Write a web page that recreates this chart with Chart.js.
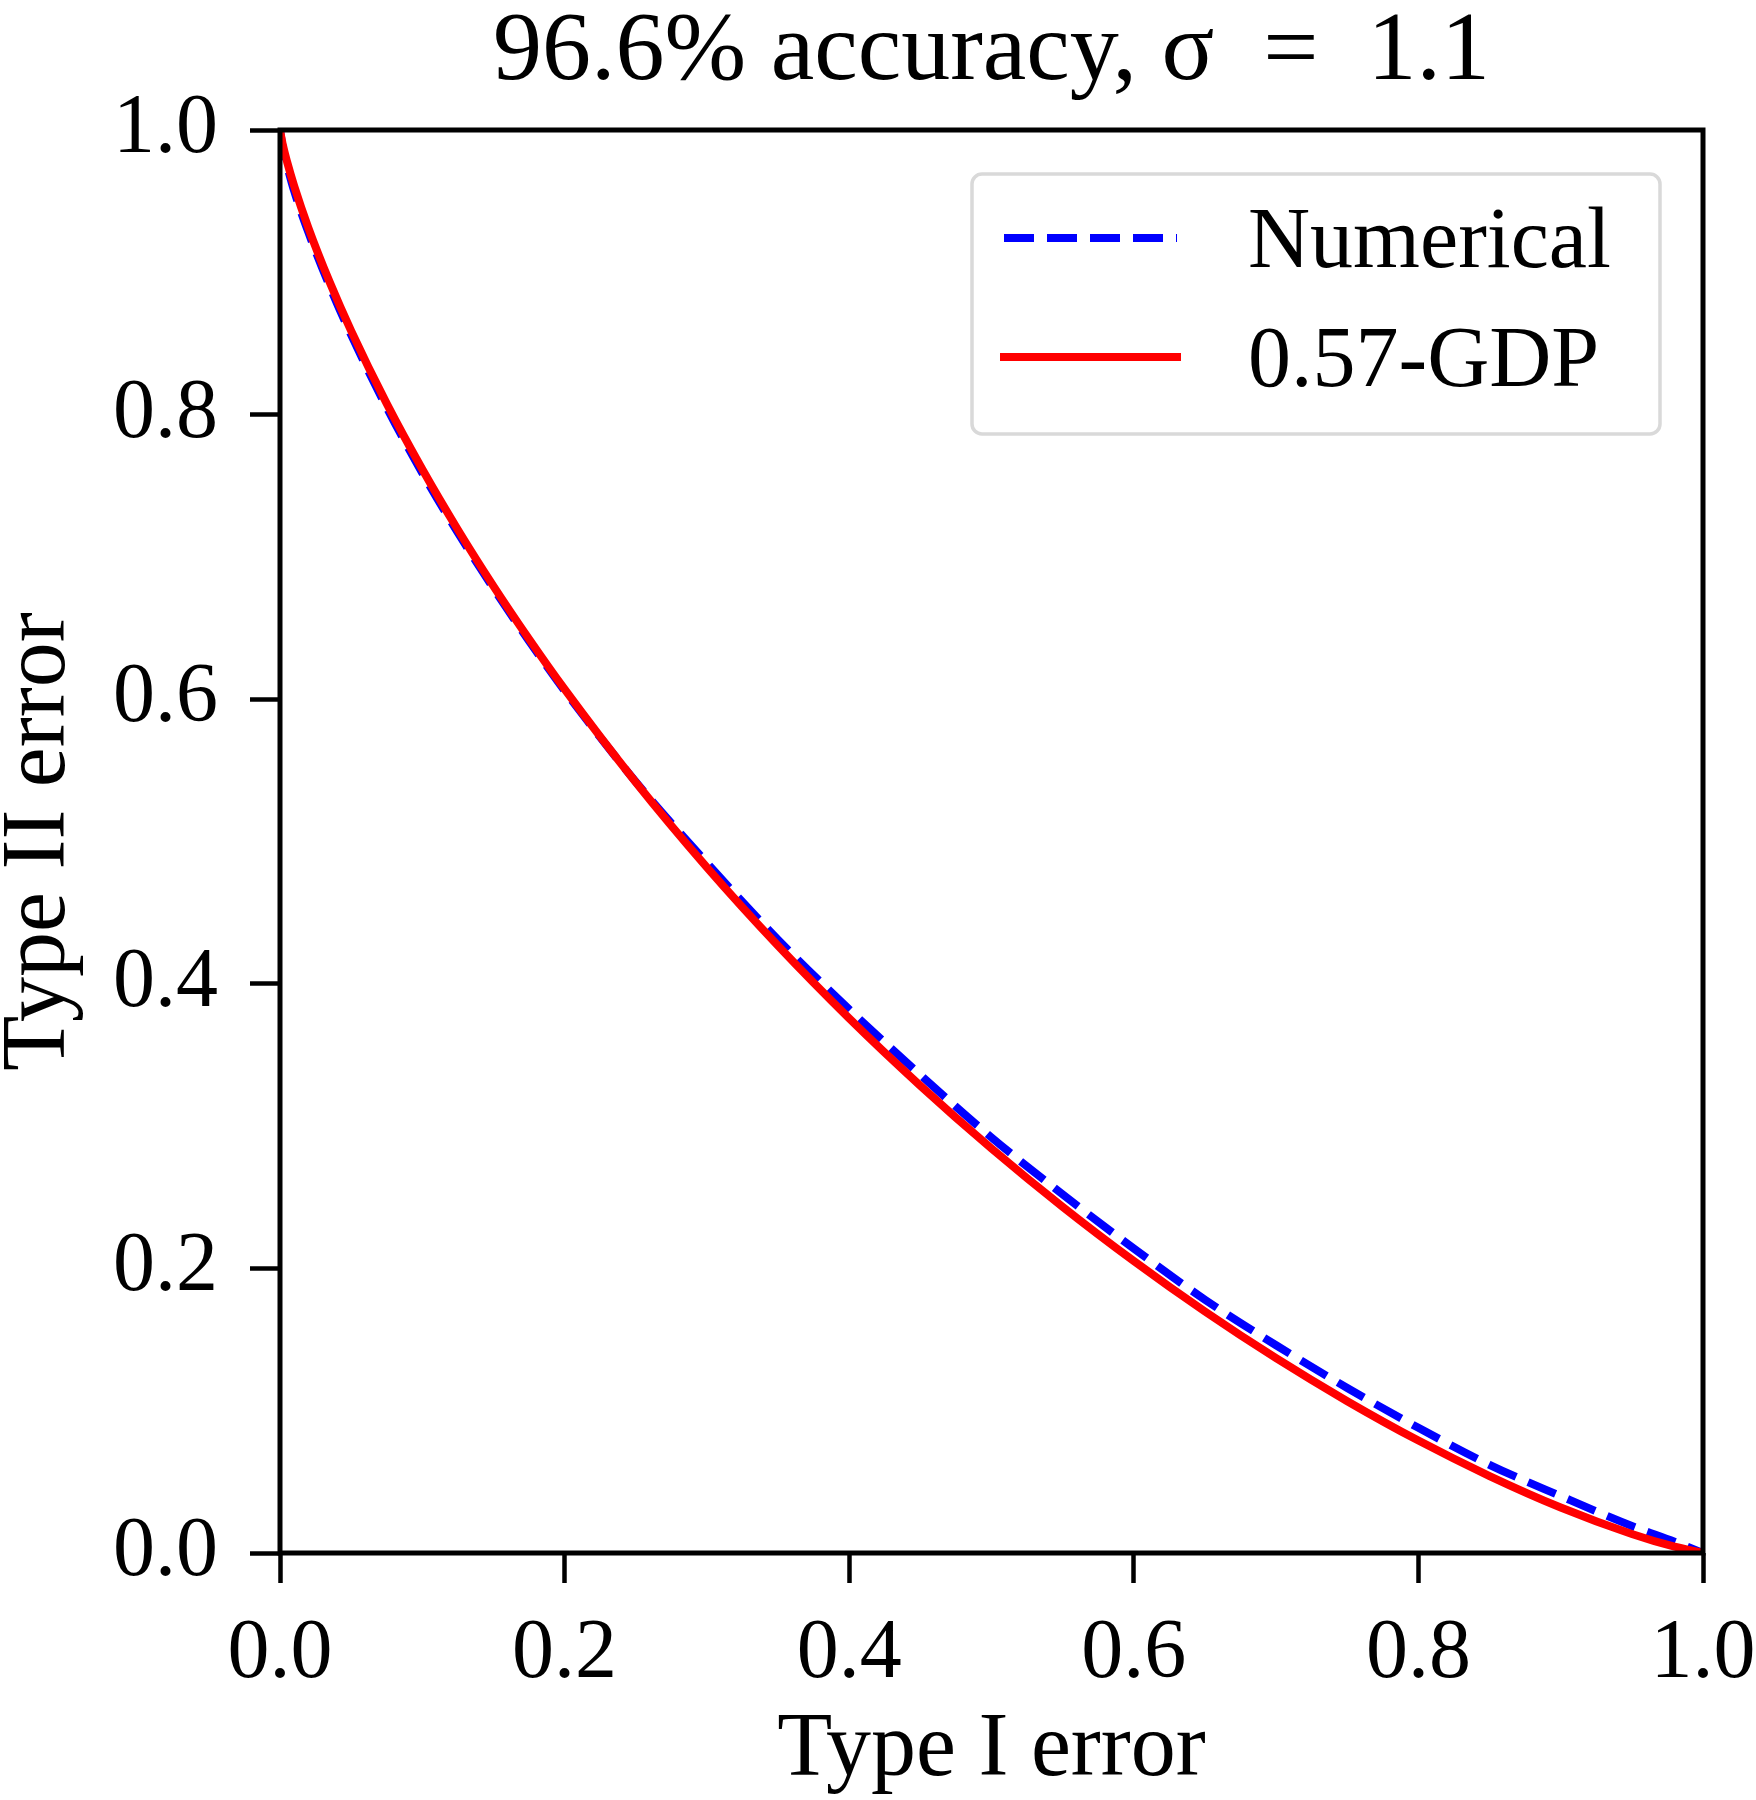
<!DOCTYPE html>
<html>
<head>
<meta charset="utf-8">
<script src="https://cdn.jsdelivr.net/npm/chart.js@4.4.0/dist/chart.umd.min.js"></script>
<style>
html,body{margin:0;padding:0;background:#fff;}
canvas{display:block;}
</style>
</head>
<body>
<canvas id="tradeoff" width="1756" height="1800"></canvas>
<script>
// type I error (x) and type II error (y)
const typeIErr = [0, 0.002, 0.005, 0.01, 0.02, 0.035, 0.05, 0.075, 0.1, 0.125, 0.15, 0.175, 0.2, 0.25, 0.3, 0.35, 0.4, 0.45, 0.5, 0.55, 0.6, 0.65, 0.7, 0.75, 0.8, 0.85, 0.9, 0.95, 0.98, 1.0];
const numerical = [1.0, 0.987, 0.975, 0.957, 0.928, 0.890, 0.856, 0.805, 0.759, 0.717, 0.678, 0.641, 0.606, 0.542, 0.485, 0.431, 0.382, 0.336, 0.292, 0.252, 0.214, 0.178, 0.146, 0.116, 0.088, 0.062, 0.040, 0.019, 0.008, 0];
const gdp = [1.0, 0.9895, 0.9776, 0.9605, 0.9311, 0.8929, 0.8588, 0.8077, 0.7616, 0.7191, 0.6795, 0.6423, 0.6070, 0.5416, 0.4818, 0.4267, 0.3757, 0.3284, 0.2843, 0.2433, 0.2052, 0.1697, 0.1369, 0.1067, 0.0790, 0.0541, 0.0320, 0.0134, 0.0044, 0];

const tickValues = [0, 0.2, 0.4, 0.6, 0.8, 1.0];
const tickLabels = ['0.0', '0.2', '0.4', '0.6', '0.8', '1.0'];

const seriesNames = ['Numerical', '0.57-GDP'];
const titleText = '96.6% accuracy, σ\u2002=\u20021.1';
const xTitle = 'Type I error';
const yTitle = 'Type II error';

const FONT = "'Liberation Serif', 'Times New Roman', serif";
const toPts = ys => ys.map((y, i) => ({ x: typeIErr[i], y }));

// frame on all four sides + matplotlib-like legend box
const frameLegend = {
  id: 'frameLegend',
  afterDatasetsDraw(chart){
    const { ctx, chartArea: a } = chart;
    ctx.save();
    ctx.strokeStyle = '#000';
    ctx.lineWidth = 5;
    ctx.strokeRect(a.left, a.top, a.right - a.left, a.bottom - a.top);
    ctx.restore();
  },
  afterDraw(chart){
    const { ctx, chartArea: a } = chart;
    const bx = a.right - 731, by = a.top + 44, bw = 688, bh = 260;
    ctx.save();
    ctx.beginPath();
    ctx.roundRect(bx, by, bw, bh, 10);
    ctx.fillStyle = 'rgba(255,255,255,0.8)';
    ctx.fill();
    ctx.lineWidth = 3.5;
    ctx.strokeStyle = '#d9d9d9';
    ctx.stroke();

    const rows = [by + 64, by + 183];
    chart.data.datasets.forEach((ds, i) => {
      const y = rows[i];
      ctx.beginPath();
      ctx.setLineDash(ds.borderDash || []);
      ctx.lineCap = ds.borderDash ? 'butt' : 'square';
      ctx.lineWidth = ds.borderWidth;
      ctx.strokeStyle = ds.borderColor;
      ctx.moveTo(bx + 32, y);
      ctx.lineTo(bx + 205, y);
      ctx.stroke();
      ctx.setLineDash([]);
      ctx.fillStyle = '#000';
      ctx.font = `86px ${FONT}`;
      ctx.textBaseline = 'alphabetic';
      ctx.textAlign = 'left';
      ctx.fillText(ds.label, bx + 276, y + 29);
    });
    ctx.restore();
  }
};

const axisCommon = {
  type: 'linear',
  min: 0,
  max: 1,
  border: { display: false },
  grid: {
    drawOnChartArea: false,
    drawTicks: true,
    tickLength: 30,
    tickWidth: 4.5,
    tickColor: '#000'
  },
  afterBuildTicks: s => { s.ticks = tickValues.map(v => ({ value: v })); }
};

new Chart(document.getElementById('tradeoff').getContext('2d'), {
  type: 'line',
  data: {
    datasets: [
      {
        label: seriesNames[0],
        data: toPts(numerical),
        borderColor: '#0000ff',
        borderWidth: 8,
        borderDash: [30, 13],
        borderCapStyle: 'butt',
        pointRadius: 0,
        cubicInterpolationMode: 'monotone',
        order: 2
      },
      {
        label: seriesNames[1],
        data: toPts(gdp),
        borderColor: '#ff0000',
        borderWidth: 8,
        pointRadius: 0,
        cubicInterpolationMode: 'monotone',
        order: 1
      }
    ]
  },
  options: {
    responsive: false,
    animation: false,
    devicePixelRatio: 1,
    layout: { padding: { left: 0, right: 53, top: 0, bottom: 0 } },
    plugins: {
      legend: { display: false },
      tooltip: { enabled: false },
      title: {
        display: true,
        text: titleText,
        fullSize: false,
        color: '#000',
        font: { family: FONT, size: 98, weight: 'normal', lineHeight: 1.2 },
        padding: { top: -6, bottom: 18.4 }
      }
    },
    scales: {
      x: {
        ...axisCommon,
        ticks: {
          color: '#000',
          padding: 22,
          maxRotation: 0,
          font: { family: FONT, size: 84 },
          callback: (v, i) => tickLabels[i]
        },
        title: {
          display: true,
          text: xTitle,
          color: '#000',
          font: { family: FONT, size: 90, lineHeight: 1.1 },
          padding: { top: 0, bottom: -1 }
        },
        afterFit: s => { s.height = 247; s.paddingLeft = 0; s.paddingRight = 0; }
      },
      y: {
        ...axisCommon,
        ticks: {
          color: '#000',
          padding: 32,
          font: { family: FONT, size: 84 },
          callback: (v, i) => tickLabels[i]
        },
        title: {
          display: true,
          text: yTitle,
          color: '#000',
          font: { family: FONT, size: 90, lineHeight: 1.1 },
          padding: { top: -9, bottom: 0 }
        },
        afterFit: s => { s.width = 280; s.paddingTop = 0; s.paddingBottom = 0; }
      }
    }
  },
  plugins: [frameLegend]
});
</script>
</body>
</html>
